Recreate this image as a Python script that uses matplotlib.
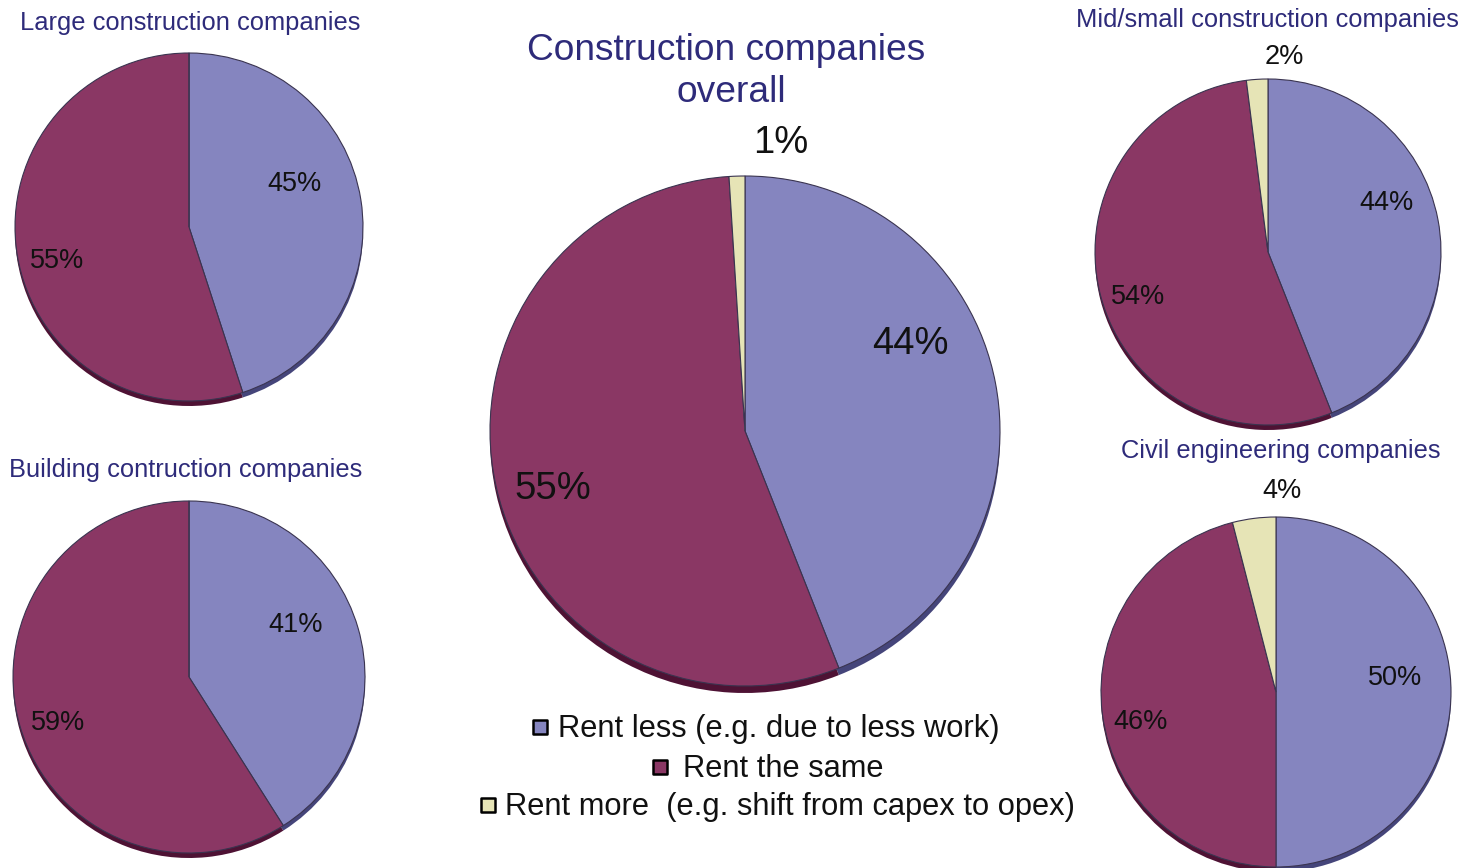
import matplotlib
matplotlib.use("Agg")
import matplotlib.pyplot as plt

plt.rcParams['font.family'] = ['Liberation Sans', 'DejaVu Sans']

W, H = 1476, 868

categories = ["Rent less (e.g. due to less work)", "Rent the same",
              "Rent more  (e.g. shift from capex to opex)"]
large = [45, 55, 0]
building = [41, 59, 0]
overall = [44, 55, 1]
midsmall = [44, 54, 2]
civil = [50, 46, 4]

colors = ["#8585BF", "#8A3764", "#E6E4B6"]
shadow = ["#45457A", "#4E1234", "#8E8C62"]
title_color = "#2E2B7A"

fig = plt.figure(figsize=(W / 100, H / 100), dpi=100)
ax = fig.add_axes([0, 0, 1, 1])
ax.set_xlim(0, W)
ax.set_ylim(0, H)
ax.axis("off")


def Y(y):
    return H - y


def draw_pie(vals, cx, cy, r, depth):
    v = [x if x > 0 else 1e-9 for x in vals]
    ax.pie(v, colors=shadow, startangle=90, counterclock=False,
           center=(cx, Y(cy) - depth), radius=r, frame=True,
           wedgeprops=dict(linewidth=0))
    ax.pie(v, colors=colors, startangle=90, counterclock=False,
           center=(cx, Y(cy)), radius=r, frame=True,
           wedgeprops=dict(linewidth=0.8, edgecolor="#3A3450"))


draw_pie(large, 189, 227, 174, 5)
draw_pie(building, 189, 677, 176, 5)
draw_pie(overall, 745, 431, 255, 7)
draw_pie(midsmall, 1268, 252, 173, 5)
draw_pie(civil, 1276, 692, 175, 5)

ax.set_xlim(0, W)
ax.set_ylim(0, H)
ax.set_aspect("equal")
ax.axis("off")

small_fs = 18.4
big_fs = 26.7
pct_small = 19.5
pct_big = 27.5


def label(x, y, s, fs, color="#111111", ha="center"):
    ax.text(x, Y(y + 2), s, fontsize=fs, color=color, ha=ha, va="center")


# titles
label(190, 21, "Large construction companies", small_fs, title_color)
label(186, 468, "Building contruction companies", small_fs, title_color)
label(726, 48, "Construction companies", big_fs, title_color)
label(731, 91, "overall", big_fs, title_color)
label(1267, 18, "Mid/small construction companies", small_fs, title_color)
label(1281, 449, "Civil engineering companies", small_fs, title_color)

# percentages
pct = lambda v: f"{v}%"
label(295, 182, pct(large[0]), pct_small)
label(57, 259, pct(large[1]), pct_small)
label(296, 623, pct(building[0]), pct_small)
label(58, 721, pct(building[1]), pct_small)
label(910, 342, pct(overall[0]), pct_big)
label(553, 487, pct(overall[1]), pct_big)
label(781, 141, pct(overall[2]), pct_big)
label(1386, 201, pct(midsmall[0]), pct_small)
label(1138, 295, pct(midsmall[1]), pct_small)
label(1284, 55, pct(midsmall[2]), pct_small)
label(1395, 676, pct(civil[0]), pct_small)
label(1141, 720, pct(civil[1]), pct_small)
label(1282, 489, pct(civil[2]), pct_small)

# legend
leg = [(540, 558, 727), (660, 683, 767), (488, 505, 805)]
for (sx, tx, ty), c, name in zip(leg, colors, categories):
    ax.scatter([sx], [Y(ty)], marker="s", s=110, color=c,
               edgecolor="black", linewidth=1.8, zorder=5)
    ax.text(tx, Y(ty + 2), name, fontsize=22.2, color="#111111",
            ha="left", va="center")

fig.savefig("out.png", dpi=100, facecolor="white")
